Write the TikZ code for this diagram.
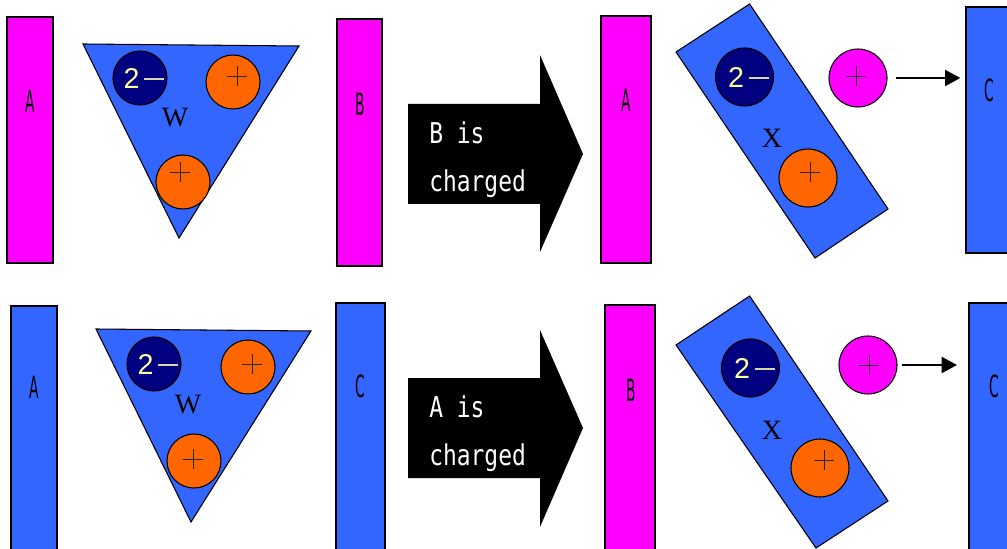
\documentclass[tikz,border=0pt]{standalone}
\usepackage{fontspec}
\setmainfont{Liberation Serif}
\newfontfamily\gothfont[FakeStretch=0.8]{DejaVu Sans Mono}
\newfontfamily\barfont[FakeStretch=0.45]{DejaVu Sans}
\newfontfamily\numfont{Liberation Sans}
\usetikzlibrary{arrows.meta}
\definecolor{magC}{HTML}{FF00FF}
\definecolor{blueC}{HTML}{3366FF}
\definecolor{navyC}{HTML}{000080}
\definecolor{orangeC}{HTML}{FF6600}
\definecolor{twoC}{HTML}{FFFF99}
\definecolor{dashC}{HTML}{D6D6A8}
\begin{document}
\begin{tikzpicture}[x=0.75pt,y=-0.75pt,
  bar/.style={draw=black, line width=0.8pt, inner sep=0pt},
  barlabel/.style={font=\barfont\fontsize{23pt}{23pt}\selectfont, inner sep=0pt},
  body/.style={draw=black, line width=0.8pt, fill=blueC},
  ion/.style={circle, draw=black, line width=0.8pt, inner sep=0pt},
  small/.style={minimum size=40.5pt},
  big/.style={minimum size=43.5pt},
  anion/.style={ion, fill=navyC},
  cation/.style={ion, fill=orangeC},
  freeion/.style={ion, fill=magC},
  twominus/.style={inner sep=0pt, text=twoC, font=\numfont\fontsize{21.5pt}{21.5pt}\selectfont},
  molname/.style={inner sep=0pt, font=\fontsize{21pt}{21pt}\selectfont},
  plusline/.style={line width=0.6pt, draw=black!85},
  bigarrow/.style={fill=black},
  arrowtext/.style={anchor=base west, inner sep=0pt, text=white,
    font=\gothfont\fontsize{21.5pt}{22pt}\selectfont},
  conn/.style={line width=1.5pt, -{Triangle[length=11.5pt,width=12pt]}}
]
\useasboundingbox (0,0) rectangle (1007,549);
\clip (0,0) rectangle (1007,549);

\newcommand\twominustext{2\hspace{3.5pt}{\color{dashC}\rule[5.8pt]{15pt}{1.4pt}}}
\newcommand\plusmark[3]{%
  \draw[plusline] ([shift={(#2,#3)}]#1.center) +(-10,0) -- +(10,0) +(0,-10) -- +(0,10);}

% ---------------- top row ----------------
% plates
\node[bar, fill=magC, minimum width=34.5pt, minimum height=184.5pt] (A1) at (30,140) {};
\node[barlabel] (A1t) at (30,101) {A};
\node[bar, fill=magC, minimum width=33.75pt, minimum height=185.25pt] (B1) at (359.5,142.5) {};
\node[barlabel] (B1t) at (360,104) {B};

% molecule W
\draw[body] (83,44) -- (299,46) -- (179,238) -- cycle;
\node[anion, small] (D1) at (140,78) {};
\node[twominus] (D1t) at ([xshift=3pt]D1.center) {\twominustext};
\node[cation, small] (O1) at (233,82) {};
\plusmark{O1}{4}{-6}
\node[cation, small] (O2) at (183,182) {};
\plusmark{O2}{-3}{-10}
\node[molname] (W1) at (175,118) {W};

% process arrow
\fill[bigarrow] (408,104) -- (540,104) -- (540,55) -- (583,154) -- (540,252) -- (540,204) -- (408,204) -- cycle;
\node[arrowtext] (T1a) at (429,144) {B is};
\node[arrowtext] (T1b) at (429,192) {charged};

% result
\node[bar, fill=magC, minimum width=37.5pt, minimum height=185.25pt] (A2) at (626,139.5) {};
\node[barlabel] (A2t) at (626,100) {A};
\node[bar, fill=blueC, minimum width=34.5pt, minimum height=184.5pt] (C1) at (989,130) {};
\node[barlabel] (C1t) at (989,90) {C};

\draw[body] (749.6,4) -- (676,52) -- (815,258) -- (888,209) -- cycle;
\node[anion, big] (D2) at (744.5,77) {};
\node[twominus] (D2t) at ([xshift=3pt]D2.center) {\twominustext};
\node[cation, big] (O3) at (808,178) {};
\plusmark{O3}{2}{-6}
\node[molname] (X1) at (772,138) {X};
\node[freeion, big] (M1) at (858,78) {};
\plusmark{M1}{-2}{-2}
\draw[conn, shorten <=6pt, shorten >=3.8pt] (M1.east) -- (M1.east -| C1.west);

% ---------------- bottom row ----------------
\node[bar, fill=blueC, minimum width=34.5pt, minimum height=195pt] (A3) at (34,436) {};
\node[barlabel] (A3t) at (34,387) {A};
\node[bar, fill=blueC, minimum width=36.75pt, minimum height=195pt] (C2) at (360.5,433) {};
\node[barlabel] (C2t) at (360,386) {C};

\draw[body] (96,329) -- (311,331) -- (191,522) -- cycle;
\node[anion, small] (D3) at (154,364) {};
\node[twominus] (D3t) at ([xshift=3pt]D3.center) {\twominustext};
\node[cation, small] (O5) at (248,367) {};
\plusmark{O5}{4}{-3}
\node[cation, small] (O6) at (194,461) {};
\plusmark{O6}{-1}{-2}
\node[molname] (W2) at (188,405) {W};

\fill[bigarrow] (408,378) -- (540,378) -- (540,330) -- (583,428) -- (540,527) -- (540,478) -- (408,478) -- cycle;
\node[arrowtext] (T2a) at (429,417) {A is};
\node[arrowtext] (T2b) at (429,465) {charged};

\node[bar, fill=magC, minimum width=37.5pt, minimum height=195pt] (B2) at (630,435) {};
\node[barlabel] (B2t) at (631,390) {B};
\node[bar, fill=blueC, minimum width=34.5pt, minimum height=195pt] (C3) at (992,433) {};
\node[barlabel] (C3t) at (994,386) {C};

\draw[body] (749.6,296) -- (676,345) -- (816,548) -- (888,501) -- cycle;
\node[anion, big] (D4) at (750.4,368) {};
\node[twominus] (D4t) at ([xshift=3pt]D4.center) {\twominustext};
\node[cation, big] (O7) at (820,468) {};
\plusmark{O7}{4}{-8}
\node[molname] (X2) at (772,430) {X};
\node[freeion, big] (M2) at (868,365) {};
\plusmark{M2}{1}{0}
\draw[conn, shorten <=3pt, shorten >=8.6pt] (M2.east) -- (M2.east -| C3.west);
\end{tikzpicture}
\end{document}
